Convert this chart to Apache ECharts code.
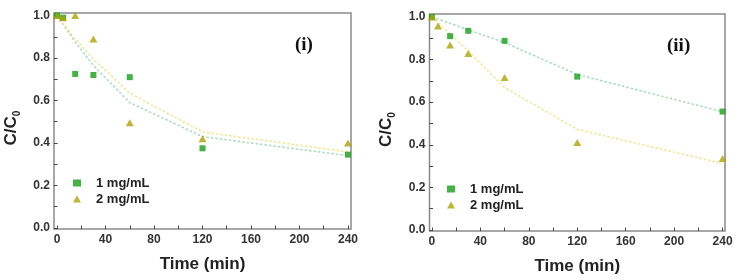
<!DOCTYPE html>
<html>
<head>
<meta charset="utf-8">
<script src="https://cdn.jsdelivr.net/npm/echarts@6/dist/echarts.min.js"></script>
<style>
  html, body { margin: 0; padding: 0; background: #fff; }
  #chart { width: 739px; height: 280px; }
</style>
</head>
<body>
<div id="chart"></div>
<script>
// panel (i)
var timeI = [0, 5, 15, 30, 60, 120, 240];
var oneI = [1.0, 0.99, 0.725, 0.72, 0.71, 0.375, 0.345];
var twoI = [1.0, 0.99, 1.0, 0.89, 0.495, 0.42, 0.40];
// panel (ii)
var timeOneII = [0, 15, 30, 60, 120, 240];
var oneII = [1.0, 0.91, 0.935, 0.888, 0.72, 0.556];
var timeTwoII = [0, 5, 15, 30, 60, 120, 240];
var twoII = [1.0, 0.958, 0.869, 0.828, 0.716, 0.41, 0.336];
// fitted curves (dashed)
var fitTime = [0, 15, 30, 60, 120, 240];
var fitOneI = [1.0, 0.875, 0.765, 0.59, 0.43, 0.34];
var fitTwoI = [1.0, 0.89, 0.795, 0.635, 0.452, 0.358];
var fitOneII = [1.0, 0.97, 0.94, 0.88, 0.73, 0.555];
var fitTwoII = [1.0, 0.92, 0.84, 0.668, 0.472, 0.312];
// ticks
var xTicks = [0, 40, 80, 120, 160, 200, 240];
var xMinor = [20, 60, 100, 140, 180, 220];
var yTicks = [0, 0.2, 0.4, 0.6, 0.8, 1.0];
var yMinor = [0.1, 0.3, 0.5, 0.7, 0.9];
var legendNames = ["1 mg/mL", "2 mg/mL"];
var panelLabels = ["(i)", "(ii)"];

var GREEN = "#14a014";
var OLIVE = "#aca200";
var FONT = "Liberation Sans";

function pair(xs, ys) {
  return xs.map(function (x, i) { return [x, ys[i]]; });
}

var myChart = echarts.init(document.getElementById("chart"));

var grids = [
  { left: 54, top: 13, width: 297, height: 216 },
  { left: 429.5, top: 14, width: 295.5, height: 218 }
];
var xRange = [[-2.5, 242.5], [-2, 242]];
var yRange = [[-0.005, 1.012], [-0.005, 1.014]];

var xAxes = [], yAxes = [];
grids.forEach(function (g, p) {
  g.show = true;
  g.borderColor = "#8a8a8a";
  g.borderWidth = 1.5;
  g.backgroundColor = "transparent";
  xAxes.push({
    gridIndex: p, type: "value", position: "bottom",
    min: xRange[p][0], max: xRange[p][1],
    axisLine: { show: false, onZero: false }, splitLine: { show: false },
    axisTick: { inside: true, length: 3.5, customValues: xTicks.concat(xMinor), lineStyle: { color: "#444" } },
    axisLabel: { customValues: xTicks, margin: 5, color: "#333", fontWeight: "bold", fontSize: 12, fontFamily: FONT },
    name: "Time (min)", nameLocation: "middle", nameGap: 27,
    nameTextStyle: { color: "#222", fontWeight: "bold", fontSize: 17, fontFamily: FONT }
  });
  yAxes.push({
    gridIndex: p, type: "value", position: "left",
    min: yRange[p][0], max: yRange[p][1],
    axisLine: { show: false, onZero: false }, splitLine: { show: false },
    axisTick: { inside: true, length: 3.5, customValues: yTicks.concat(yMinor), lineStyle: { color: "#444" } },
    axisLabel: {
      customValues: yTicks, margin: 4, color: "#333", fontWeight: "bold", fontSize: 12, fontFamily: FONT,
      formatter: function (v) { return v.toFixed(1); }
    },
    name: "{a|C/C}{b|0}", nameLocation: "middle", nameRotate: 90, nameGap: 32,
    nameTextStyle: {
      color: "#222",
      padding: [0, 14, 0, 0],
      rich: {
        a: { fontSize: 17, fontWeight: "bold", fontFamily: FONT, color: "#222", lineHeight: 22, verticalAlign: "middle" },
        b: { fontSize: 10, fontWeight: "bold", fontFamily: FONT, color: "#222", lineHeight: 10, verticalAlign: "bottom" }
      }
    }
  });
});

function fitLine(p, data, color) {
  return {
    type: "line", xAxisIndex: p, yAxisIndex: p,
    data: data, showSymbol: false, silent: true, z: 1,
    lineStyle: { color: color, width: 1.5, type: [2.5, 2] }
  };
}
function dots(p, name, data, symbol, size, color) {
  return {
    type: "scatter", name: name, xAxisIndex: p, yAxisIndex: p,
    data: data, symbol: symbol, symbolSize: size, z: 3,
    itemStyle: { color: color }
  };
}

var series = [
  fitLine(0, pair(fitTime, fitOneI), "#a6dbbd"),
  fitLine(0, pair(fitTime, fitTwoI), "#f0e690"),
  dots(0, legendNames[0], pair(timeI, oneI), "rect", 6, GREEN),
  dots(0, legendNames[1], pair(timeI, twoI), "triangle", [8, 7], OLIVE),
  fitLine(1, pair(fitTime, fitOneII), "#a6dbbd"),
  fitLine(1, pair(fitTime, fitTwoII), "#f0e690"),
  dots(1, legendNames[0], pair(timeOneII, oneII), "rect", 6, GREEN),
  dots(1, legendNames[1], pair(timeTwoII, twoII), "triangle", [8, 7], OLIVE)
];

function legendAt(left, top) {
  return {
    left: left, top: top, orient: "vertical", padding: 0,
    itemWidth: 8, itemHeight: 7, itemGap: 2,
    selectedMode: false,
    data: [{ name: legendNames[0], icon: "rect" }, { name: legendNames[1], icon: "triangle" }],
    textStyle: { color: "#222", fontWeight: "bold", fontSize: 13, fontFamily: FONT, lineHeight: 14, padding: [0, 0, 0, 10] }
  };
}

var opt = {
  animation: false,
  title: [
    { text: panelLabels[0], left: 295, top: 36, padding: 0,
      textStyle: { fontFamily: "Liberation Serif", fontWeight: "bold", fontSize: 19, color: "#111" } },
    { text: panelLabels[1], left: 667, top: 37, padding: 0,
      textStyle: { fontFamily: "Liberation Serif", fontWeight: "bold", fontSize: 19, color: "#111" } }
  ],
  legend: [legendAt(73, 176), legendAt(447, 182)],
  grid: grids,
  xAxis: xAxes,
  yAxis: yAxes,
  series: series
};

myChart.setOption(opt);
</script>
</body>
</html>
